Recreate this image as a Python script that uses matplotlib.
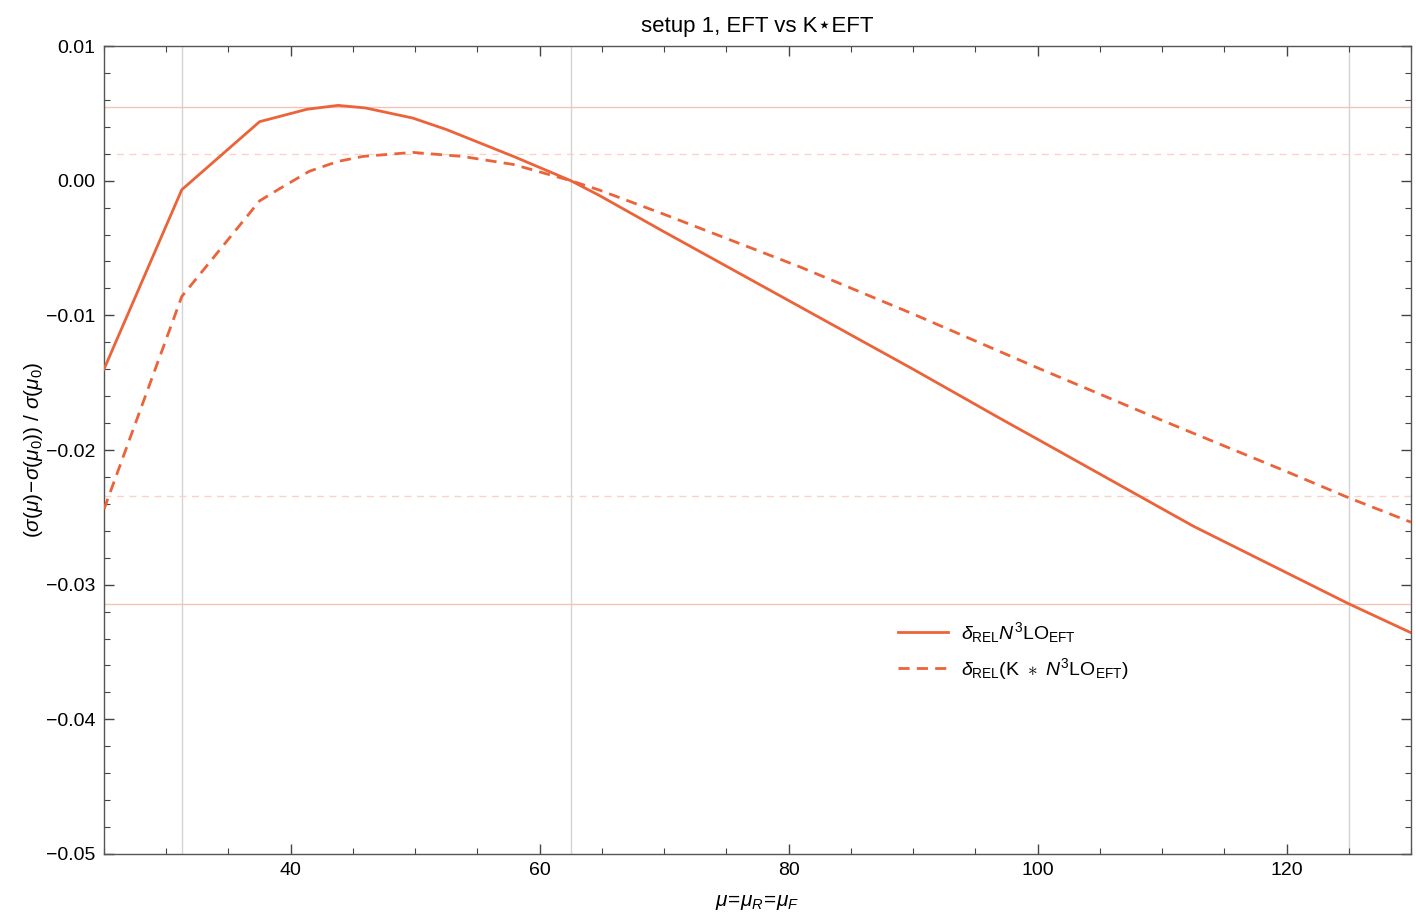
import numpy as np
import matplotlib
matplotlib.use('Agg')
import matplotlib.pyplot as plt
from matplotlib.ticker import MultipleLocator, FuncFormatter

plt.rcParams['font.family'] = ['Liberation Sans', 'DejaVu Sans']
plt.rcParams['mathtext.fontset'] = 'custom'
plt.rcParams['mathtext.rm'] = 'Liberation Sans'
plt.rcParams['mathtext.it'] = 'Liberation Sans:italic'
plt.rcParams['mathtext.bf'] = 'Liberation Sans:bold'

# solid curve: delta_REL N3LO_EFT
mu_eft = [25, 31.25, 37.5, 41.3, 43.8, 46, 49.8, 52.5, 55.2, 57.9, 62.5, 64.8,
          70, 80, 90, 97, 100, 112.5, 125, 130]
d_eft = [-0.0140, -0.00067, 0.00438, 0.0053, 0.00559, 0.0054, 0.00465, 0.0038,
         0.0028, 0.0018, 0.0, -0.0011, -0.0038, -0.0089, -0.0140, -0.01766,
         -0.0192, -0.02565, -0.03142, -0.03357]

# dashed curve: delta_REL (K * N3LO_EFT)
mu_keft = [25, 31.25, 37.5, 39.1, 41.5, 43.8, 45.8, 49.8, 53.8, 57.9, 62.5, 64.8,
           70, 80.9, 90, 97, 100, 110, 120, 125, 130]
d_keft = [-0.0244, -0.0086, -0.0015, -0.0006, 0.0007, 0.00143, 0.0018, 0.0021,
          0.0018, 0.0012, 0.0, -0.0007, -0.0025, -0.0064, -0.0099, -0.0127,
          -0.0139, -0.0178, -0.0216, -0.02355, -0.02536]

mu_lines = [31.25, 62.5, 125]
h_eft = [0.00549, -0.03147]
h_keft = [0.0020, -0.02345]

col = '#EC6339'


def yfmt(v, pos):
    s = '%.2f' % abs(v)
    return ('\u2212' + s) if v < -1e-9 else s


fig = plt.figure(figsize=(14.16, 9.15), dpi=100)
ax = fig.add_axes([104 / 1416, 61 / 915, 1307 / 1416, 808 / 915])

for m in mu_lines:
    ax.axvline(m, color='#d4d4d4', lw=1.0, zorder=1)
for h in h_eft:
    ax.axhline(h, color='#f6c2b4', lw=1.0, zorder=1)
for h in h_keft:
    ax.axhline(h, color='#f9d3c8', lw=1.0, ls=(0, (5, 4)), zorder=1)

ax.plot(mu_eft, d_eft, color=col, lw=2.0, zorder=3,
        label=r'$\delta_{\rm REL}N^3{\rm LO}_{\rm EFT}$')
ax.plot(mu_keft, d_keft, color=col, lw=2.0, ls=(0, (4, 2.6)), zorder=3,
        label=r'$\delta_{\rm REL}({\rm K}\ \ast\ N^3{\rm LO}_{\rm EFT})$')

ax.set_xlim(25, 130)
ax.set_ylim(-0.05, 0.01)
ax.xaxis.set_major_locator(MultipleLocator(20))
ax.xaxis.set_minor_locator(MultipleLocator(5))
ax.yaxis.set_major_locator(MultipleLocator(0.01))
ax.yaxis.set_minor_locator(MultipleLocator(0.002))
ax.yaxis.set_major_formatter(FuncFormatter(yfmt))
ax.tick_params(which='both', direction='in', top=True, right=True,
               labelsize=14, color='#444444', pad=6)
ax.tick_params(which='major', length=7, width=1)
ax.tick_params(which='minor', length=4, width=0.8)
for s in ax.spines.values():
    s.set_color('#555555')
    s.set_linewidth(1.0)

ax.set_title('setup 1, EFT vs K\u22c6EFT', fontsize=16, pad=10)
ax.set_xlabel(r'$\mu\!=\!\mu_R\!=\!\mu_F$', fontsize=15, labelpad=10)
ax.set_ylabel(r'$(\sigma(\mu)\!-\!\sigma(\mu_0))\ /\ \sigma(\mu_0)$', fontsize=15,
              labelpad=1)

ax.legend(loc='upper left', bbox_to_anchor=(888 / 1416, 1 - 610 / 915),
          bbox_transform=fig.transFigure, frameon=False, fontsize=14,
          borderpad=0, handlelength=2.6, handletextpad=0.65, labelspacing=0.6)

fig.savefig('out.png', dpi=100)
